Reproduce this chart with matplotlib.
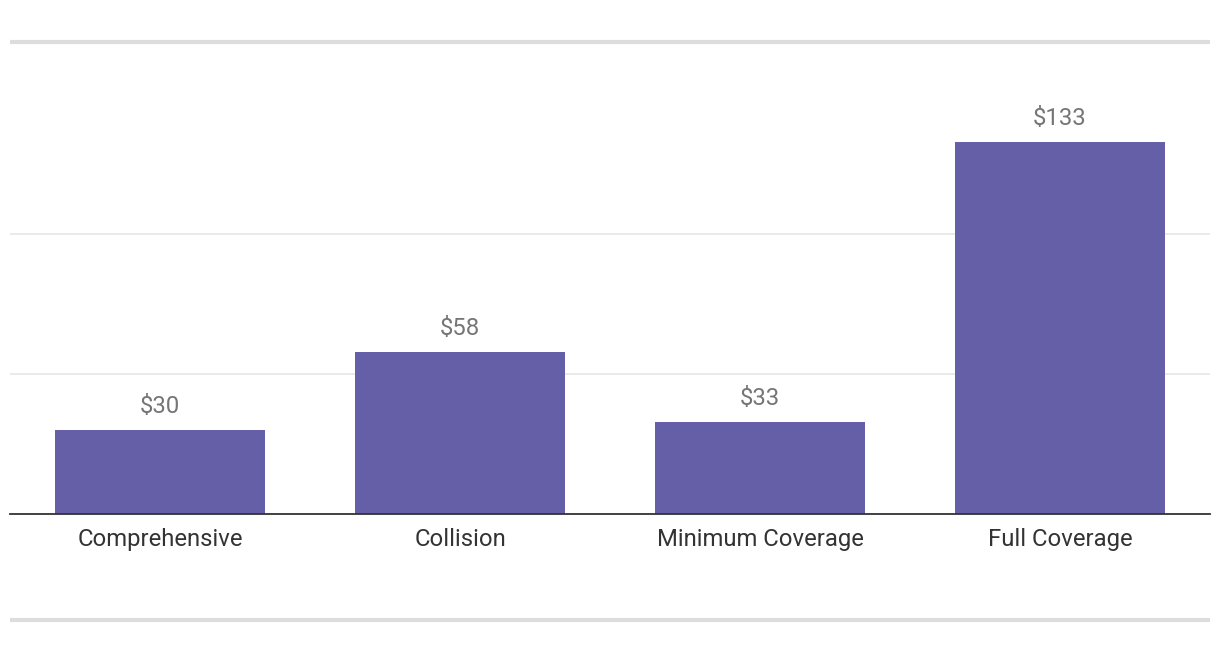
import matplotlib.pyplot as plt
from matplotlib.lines import Line2D

categories = ['Comprehensive', 'Collision', 'Minimum Coverage', 'Full Coverage']
values = [30, 58, 33, 133]
gridlines = [50, 100]

plt.rcParams['font.family'] = ['Roboto', 'DejaVu Sans']

W, H = 1220, 652
fig = plt.figure(figsize=(W / 100, H / 100), dpi=100)
ax = fig.add_axes([10 / W, (H - 514) / H, 1200 / W, 420 / H])

x = range(len(categories))
ax.bar(x, values, width=0.7, color='#645fa6', zorder=2)
for xi, v in zip(x, values):
    ax.annotate(f'${v}', (xi, v), xytext=(0, 8.5), textcoords='offset points',
                ha='center', va='bottom', fontsize=17.2, color='#757575')

ax.set_xlim(-0.5, len(categories) - 0.5)
ax.set_ylim(0, 150)
ax.set_yticks(gridlines)
ax.yaxis.grid(True, color='#e6e6e6', linewidth=1.2, zorder=0)
ax.tick_params(axis='y', left=False, labelleft=False)
ax.set_xticks(list(x))
ax.set_xticklabels(categories, fontsize=17.2, color='#333333')
ax.tick_params(axis='x', length=0, pad=9.8)
for s in ['top', 'right', 'left']:
    ax.spines[s].set_visible(False)
ax.spines['bottom'].set_color('#333333')
ax.spines['bottom'].set_linewidth(1.3)
ax.spines['bottom'].set_zorder(3)

# separator lines above and below the chart
for yp in [42, 620]:
    fig.add_artist(Line2D([10 / W, 1210 / W], [1 - yp / H, 1 - yp / H],
                          color='#dddddd', linewidth=3, solid_capstyle='butt'))

fig.savefig('out.png', dpi=100, facecolor='white')
